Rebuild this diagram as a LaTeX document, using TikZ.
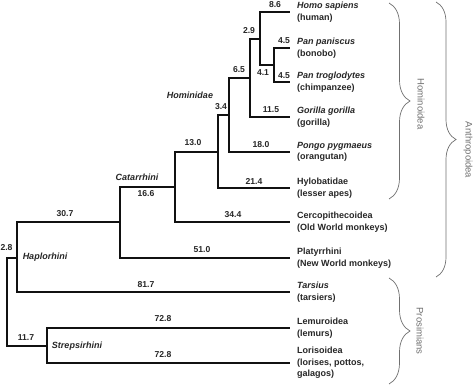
\documentclass[tikz,border=0pt]{standalone}
\usepackage{fontspec}
\setmainfont{Liberation Sans}
\usetikzlibrary{positioning,decorations.pathreplacing}
\definecolor{ink}{HTML}{111111}
\definecolor{txt}{HTML}{262626}
\definecolor{bracegray}{HTML}{707070}
\tikzset{
  branch/.style={draw=ink, line width=2.6pt, line cap=butt, line join=miter},
  leaf/.style={font=\fontsize{9}{11.5}\selectfont\bfseries, text=txt, align=left, inner sep=0pt},
  blen/.style={font=\fontsize{8.6}{10}\selectfont\bfseries, text=txt, inner sep=0pt},
  clade/.style={font=\fontsize{9}{10}\selectfont\bfseries\itshape, text=txt, inner sep=0pt},
  grp/.style={draw=bracegray, line width=0.7pt, decorate, decoration={brace, amplitude=#1}},
  grp/.default=21pt,
  grplab/.style={font=\fontsize{9.5}{11}\selectfont, text=bracegray, rotate=-90, inner sep=0pt}
}
\begin{document}
\begin{tikzpicture}[x=1pt, y=-1pt]
  \useasboundingbox (0,0) rectangle (474,385);

  % internal nodes of the tree
  \coordinate (root) at (7,302);
  \coordinate (hap) at (17,258);
  \coordinate (strep) at (47,346);
  \coordinate (cat) at (120,222);
  \coordinate (cata) at (175,187);
  \coordinate (homd) at (218,152);
  \coordinate (hpgp) at (229,115);
  \coordinate (hpg) at (250,78);
  \coordinate (hp) at (260,39);
  \coordinate (pan) at (274,65);

  % tips
  \coordinate (tHomo) at (290,12);
  \coordinate (tPanP) at (290,48);
  \coordinate (tPanT) at (290,82);
  \coordinate (tGor) at (290,117);
  \coordinate (tPon) at (290,152);
  \coordinate (tHyl) at (290,188);
  \coordinate (tCer) at (290,222);
  \coordinate (tPla) at (290,258);
  \coordinate (tTar) at (290,292);
  \coordinate (tLem) at (290,328);
  \coordinate (tLor) at (290,363);

  % branches
  \foreach \p/\c in {root/hap, root/strep, hap/cat, hap/tTar, cat/cata, cat/tPla,
                     cata/homd, cata/tCer, homd/hpgp, homd/tHyl, hpgp/hpg, hpgp/tPon,
                     hpg/hp, hpg/tGor, hp/tHomo, hp/pan, pan/tPanP, pan/tPanT,
                     strep/tLem, strep/tLor}
    \draw[branch] (\p) |- (\c);

  % taxa
  \node[leaf, right=7pt of tHomo] (homo) {\textit{Homo sapiens}\\(human)};
  \node[leaf, right=7pt of tPanP] (panp) {\textit{Pan paniscus}\\(bonobo)};
  \node[leaf, right=7pt of tPanT] (pant) {\textit{Pan troglodytes}\\(chimpanzee)};
  \node[leaf, right=7pt of tGor] (gor) {\textit{Gorilla gorilla}\\(gorilla)};
  \node[leaf, right=7pt of tPon] (pon) {\textit{Pongo pygmaeus}\\(orangutan)};
  \node[leaf, right=7pt of tHyl] (hyl) {Hylobatidae\\(lesser apes)};
  \node[leaf, right=7pt of tCer] (cer) {Cercopithecoidea\\(Old World monkeys)};
  \node[leaf, right=7pt of tPla] (pla) {Platyrrhini\\(New World monkeys)};
  \node[leaf, right=7pt of tTar] (tar) {\textit{Tarsius}\\(tarsiers)};
  \node[leaf, right=7pt of tLem] (lem) {Lemuroidea\\(lemurs)};
  \node[leaf, right=7pt of tLor] (lor) {Lorisoidea\\(lorises, pottos,\\galagos)};

  % branch lengths
  \node[blen] (b86) at (275,5) {8.6};
  \node[blen] (b29) at (249,31) {2.9};
  \node[blen] (b45a) at (284,41) {4.5};
  \node[blen] (b45b) at (284,76) {4.5};
  \node[blen] (b41) at (263,73) {4.1};
  \node[blen] (b65) at (239,70) {6.5};
  \node[blen] (b115) at (271,110) {11.5};
  \node[blen] (b34) at (221,107) {3.4};
  \node[blen] (b180) at (261,145) {18.0};
  \node[blen] (b214) at (254,181) {21.4};
  \node[blen] (b130) at (193,143) {13.0};
  \node[blen] (b344) at (233,215) {34.4};
  \node[blen] (b166) at (146,194) {16.6};
  \node[blen] (b307) at (65,214) {30.7};
  \node[blen] (b510) at (202,250) {51.0};
  \node[blen] (b28) at (6.5,248) {2.8};
  \node[blen] (b817) at (146,285) {81.7};
  \node[blen] (b728a) at (163,319) {72.8};
  \node[blen] (b728b) at (163,355) {72.8};
  \node[blen] (b117) at (26,338) {11.7};

  % clade names
  \node[clade] (hominidae) at (190,95) {Hominidae};
  \node[clade] (catarrhini) at (137,177) {Catarrhini};
  \node[clade] (haplorhini) at (45,257) {Haplorhini};
  \node[clade] (strepsirhini) at (77,346) {Strepsirhini};

  % groupings
  \draw[grp] (389,3) -- (389,199);
  \node[grplab] (hominoidea) at (421,104) {Hominoidea};
  \draw[grp=20pt] (436,2) -- (436,277);
  \node[grplab] (anthropoidea) at (468,150) {Anthropoidea};
  \draw[grp] (389,278) -- (389,384);
  \node[grplab] (prosimians) at (420,331) {Prosimians};
\end{tikzpicture}
\end{document}
